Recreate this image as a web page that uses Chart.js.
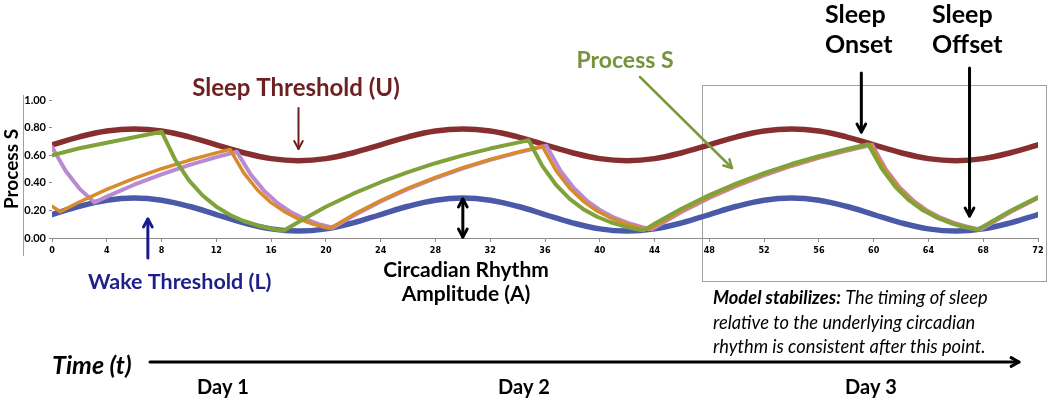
<!DOCTYPE html>
<html>
<head>
<meta charset="utf-8">
<script src="https://cdn.jsdelivr.net/npm/chart.js@4"></script>
<style>
  html, body { margin: 0; padding: 0; background: #fff; }
  #wrap { width: 1050px; height: 400px; }
</style>
</head>
<body>
<div id="wrap"><canvas id="sleepChart" width="1050" height="400"></canvas></div>
<script>
// axis ticks
const hourTicks = [0, 4, 8, 12, 16, 20, 24, 28, 32, 36, 40, 44, 48, 52, 56, 60, 64, 68, 72];
const levelTicks = ['0.00', '0.10', '0.20', '0.30', '0.40', '0.50', '0.60', '0.70', '0.80', '0.90', '1.00'];

// circadian thresholds, read every 2 hours
const thresholdHours = [0, 2, 4, 6, 8, 10, 12, 14, 16, 18, 20, 22, 24, 26, 28, 30, 32, 34, 36,
  38, 40, 42, 44, 46, 48, 50, 52, 54, 56, 58, 60, 62, 64, 66, 68, 70, 72];
const upperThreshold = [0.675, 0.733, 0.775, 0.79, 0.775, 0.733, 0.675, 0.618, 0.575, 0.56, 0.575, 0.618,
  0.675, 0.733, 0.775, 0.79, 0.775, 0.733, 0.675, 0.618, 0.575, 0.56, 0.575, 0.618,
  0.675, 0.733, 0.775, 0.79, 0.775, 0.733, 0.675, 0.618, 0.575, 0.56, 0.575, 0.618, 0.675];
const lowerThreshold = [0.17, 0.23, 0.274, 0.29, 0.274, 0.23, 0.17, 0.11, 0.066, 0.05, 0.066, 0.11,
  0.17, 0.23, 0.274, 0.29, 0.274, 0.23, 0.17, 0.11, 0.066, 0.05, 0.066, 0.11,
  0.17, 0.23, 0.274, 0.29, 0.274, 0.23, 0.17, 0.11, 0.066, 0.05, 0.066, 0.11, 0.17];

// Process S (green), starting at 0.60
const greenHours = [0, 2, 4, 6, 8, 9, 10, 11, 12, 13, 14, 15, 16, 16.9, 18, 20, 22, 24, 26, 28, 30, 32, 34, 34.8,
  35.8, 36.8, 37.8, 38.8, 39.8, 40.8, 41.8, 42.8, 43.2, 44, 46, 48, 50, 52, 54, 56, 58, 59.6,
  60.6, 61.6, 62.6, 63.6, 64.6, 65.6, 66.6, 67.6, 68, 70, 72];
const greenLevels = [0.60, 0.65, 0.69, 0.73, 0.77, 0.567, 0.418, 0.308, 0.227, 0.167, 0.123, 0.091, 0.067, 0.052,
  0.116, 0.226, 0.321, 0.404, 0.478, 0.542, 0.599, 0.648, 0.691, 0.708,
  0.523, 0.386, 0.284, 0.209, 0.154, 0.114, 0.084, 0.062, 0.055, 0.103, 0.214, 0.311, 0.396, 0.470, 0.536, 0.593, 0.643, 0.679,
  0.501, 0.369, 0.272, 0.201, 0.148, 0.109, 0.080, 0.06, 0.084, 0.197, 0.296];

// Process S (orange), starting at 0.23
const orangeHours = [0, 0.6, 2, 4, 6, 8, 10, 12, 13, 14, 15, 16, 17, 18, 19, 20, 20.3, 22, 24, 26, 28, 30, 32, 34, 35.8,
  36.8, 37.8, 38.8, 39.8, 40.8, 41.8, 42.8, 43.6, 46, 48, 50, 52, 54, 56, 58, 59.8,
  60.8, 61.8, 62.8, 63.8, 64.8, 65.8, 66.8, 67.7, 70, 72];
const orangeLevels = [0.23, 0.19, 0.261, 0.352, 0.432, 0.502, 0.563, 0.617, 0.642, 0.472, 0.348, 0.256, 0.189, 0.139, 0.103, 0.076, 0.069,
  0.169, 0.271, 0.361, 0.440, 0.509, 0.569, 0.622, 0.665,
  0.490, 0.361, 0.266, 0.196, 0.145, 0.107, 0.079, 0.062, 0.199, 0.297, 0.384, 0.461, 0.526, 0.585, 0.636, 0.677,
  0.499, 0.368, 0.271, 0.200, 0.147, 0.109, 0.080, 0.061, 0.192, 0.292];

// Process S (purple), starting at 0.66
const purpleHours = [0, 1, 2, 3.1, 4, 6, 8, 10, 12, 13.5, 14.5, 15.5, 16.5, 17.5, 18.5, 19.5, 20.5, 22, 24, 26, 28, 30, 32, 34, 36.1,
  37.1, 38.1, 39.1, 40.1, 41.1, 42.1, 43.1, 43.8, 46, 48, 50, 52, 54, 56, 58, 59.9,
  60.9, 61.9, 62.9, 63.9, 64.9, 65.9, 66.9, 67.8, 70, 72];
const purpleLevels = [0.66, 0.486, 0.358, 0.257, 0.300, 0.386, 0.461, 0.528, 0.586, 0.625, 0.461, 0.340, 0.250, 0.184, 0.136, 0.100, 0.074,
  0.161, 0.265, 0.355, 0.434, 0.504, 0.566, 0.619, 0.668,
  0.492, 0.363, 0.267, 0.197, 0.145, 0.107, 0.079, 0.064, 0.190, 0.290, 0.378, 0.454, 0.522, 0.581, 0.632, 0.675,
  0.497, 0.367, 0.270, 0.199, 0.147, 0.108, 0.080, 0.061, 0.188, 0.29];

function pairUp(xs, ys) {
  return xs.map((x, i) => ({ x: x, y: ys[i] }));
}

const annoFont = 'Lato, "Open Sans", sans-serif';

function arrow(ctx, x1, y1, x2, y2, color, width, both) {
  ctx.save();
  ctx.strokeStyle = color;
  ctx.lineWidth = width;
  ctx.lineCap = 'round';
  ctx.lineJoin = 'round';
  ctx.beginPath();
  ctx.moveTo(x1, y1);
  ctx.lineTo(x2, y2);
  ctx.stroke();
  const heads = both ? [[x2, y2, x1, y1], [x1, y1, x2, y2]] : [[x2, y2, x1, y1]];
  heads.forEach(h => {
    const a = Math.atan2(h[1] - h[3], h[0] - h[2]);
    const len = 9;
    ctx.beginPath();
    ctx.moveTo(h[0] - len * Math.cos(a - 0.5), h[1] - len * Math.sin(a - 0.5));
    ctx.lineTo(h[0], h[1]);
    ctx.lineTo(h[0] - len * Math.cos(a + 0.5), h[1] - len * Math.sin(a + 0.5));
    ctx.stroke();
  });
  ctx.restore();
}

function label(ctx, text, x, y, font, color, align) {
  ctx.font = font;
  ctx.fillStyle = color;
  ctx.textAlign = align || 'center';
  ctx.textBaseline = 'middle';
  ctx.fillText(text, x, y);
}

const notes = {
  id: 'notes',
  beforeDatasetsDraw(chart) {
    const ctx = chart.ctx;
    ctx.save();
    ctx.strokeStyle = '#a0a0a0';
    ctx.lineWidth = 1;
    ctx.strokeRect(702.5, 85.5, 344, 196);
    ctx.beginPath();
    ctx.moveTo(23.5, 95);
    ctx.lineTo(23.5, 256);
    ctx.stroke();
    ctx.restore();
  },
  afterDraw(chart) {
    const ctx = chart.ctx;
    const xs = chart.scales.x;
    ctx.save();

    label(ctx, 'Sleep Threshold (U)', 296, 88, 'bold 24px ' + annoFont, '#6e1f1f');
    arrow(ctx, xs.getPixelForValue(18), 108, xs.getPixelForValue(18), 149, '#6e1f1f', 2);

    label(ctx, 'Process S', 625, 61, 'bold 23px ' + annoFont, '#77933c');
    arrow(ctx, 640, 77, 732, 168, '#7a9a3e', 2.5);

    label(ctx, 'Sleep', 825, 15, 'bold 25px ' + annoFont, '#000', 'left');
    label(ctx, 'Onset', 825, 45, 'bold 25px ' + annoFont, '#000', 'left');
    label(ctx, 'Sleep', 932, 15, 'bold 25px ' + annoFont, '#000', 'left');
    label(ctx, 'Offset', 932, 45, 'bold 25px ' + annoFont, '#000', 'left');
    arrow(ctx, xs.getPixelForValue(59.1), 73, xs.getPixelForValue(59.1), 132, '#000', 3);
    arrow(ctx, xs.getPixelForValue(67), 68, xs.getPixelForValue(67), 216, '#000', 3);

    label(ctx, 'Wake Threshold (L)', 88, 282, 'bold 21.5px ' + annoFont, '#1f1f8c', 'left');
    arrow(ctx, xs.getPixelForValue(7), 258, xs.getPixelForValue(7), 219, '#1a1a8c', 3);

    label(ctx, 'Circadian Rhythm', 466, 270, 'bold 21px ' + annoFont, '#000');
    label(ctx, 'Amplitude (A)', 466, 294, 'bold 21px ' + annoFont, '#000');
    arrow(ctx, xs.getPixelForValue(30), 199, xs.getPixelForValue(30), 237, '#000', 3, true);

    // model stabilizes note
    ctx.font = 'italic bold 18.3px ' + annoFont;
    ctx.fillStyle = '#000';
    ctx.textAlign = 'left';
    ctx.textBaseline = 'middle';
    const lead = 'Model stabilizes:';
    ctx.fillText(lead, 713, 298);
    const leadW = ctx.measureText(lead).width;
    ctx.font = 'italic 18.3px ' + annoFont;
    ctx.fillText(' The timing of sleep', 713 + leadW, 298);
    ctx.fillText('relative to the underlying circadian', 713, 323);
    ctx.fillText('rhythm is consistent after this point.', 713, 347);

    label(ctx, 'Time (t)', 52, 366, 'italic bold 25px ' + annoFont, '#000', 'left');
    arrow(ctx, 150, 362, 1019, 362, '#000', 3);

    label(ctx, 'Day 1', 223, 388, 'bold 20px ' + annoFont, '#000');
    label(ctx, 'Day 2', 524, 388, 'bold 20px ' + annoFont, '#000');
    label(ctx, 'Day 3', 871, 388, 'bold 20px ' + annoFont, '#000');

    ctx.restore();
  }
};

const lineStyle = {
  pointRadius: 0,
  fill: false,
  tension: 0,
  borderJoinStyle: 'round',
  borderCapStyle: 'round'
};

const ctx = document.getElementById('sleepChart').getContext('2d');
const sleepChart = new Chart(ctx, {
  type: 'line',
  data: {
    datasets: [
      Object.assign({ label: 'Process S', data: pairUp(greenHours, greenLevels), borderColor: '#7fa23a', borderWidth: 4 }, lineStyle),
      Object.assign({ label: 'Process S (start 0.23)', data: pairUp(orangeHours, orangeLevels), borderColor: '#d98a2b', borderWidth: 3.5 }, lineStyle),
      Object.assign({ label: 'Process S (start 0.66)', data: pairUp(purpleHours, purpleLevels), borderColor: '#b88ad2', borderWidth: 4 }, lineStyle),
      Object.assign({}, lineStyle, { label: 'Wake Threshold (L)', data: pairUp(thresholdHours, lowerThreshold), borderColor: '#4b5aa8', borderWidth: 5.5, tension: 0.4 }),
      Object.assign({}, lineStyle, { label: 'Sleep Threshold (U)', data: pairUp(thresholdHours, upperThreshold), borderColor: '#862f2e', borderWidth: 5.5, tension: 0.4 })
    ]
  },
  options: {
    responsive: false,
    animation: false,
    devicePixelRatio: 1,
    layout: { padding: { top: 100, right: 12, bottom: 142, left: 0 } },
    plugins: {
      legend: { display: false },
      tooltip: { enabled: false }
    },
    scales: {
      x: {
        type: 'linear',
        min: 0,
        max: 72,
        afterBuildTicks: scale => { scale.ticks = hourTicks.map(v => ({ value: v })); },
        afterFit: scale => { scale.height = 20; },
        grid: { drawOnChartArea: false, drawTicks: true, tickLength: 4, color: '#8c8c8c' },
        border: { display: true, color: '#8c8c8c' },
        ticks: {
          autoSkip: false,
          maxRotation: 0,
          padding: 3,
          color: '#000',
          font: { family: '"Liberation Sans Narrow", "DejaVu Sans Condensed", sans-serif', weight: 'bold', size: 9 }
        }
      },
      y: {
        min: 0,
        max: 1,
        afterBuildTicks: scale => { scale.ticks = levelTicks.map(v => ({ value: parseFloat(v) })); },
        afterFit: scale => { scale.width = 52; },
        grid: { drawOnChartArea: false, drawTicks: true, tickLength: 3, color: '#8c8c8c' },
        border: { display: false },
        title: {
          display: true,
          text: 'Process S',
          color: '#000',
          padding: 0,
          font: { family: annoFont, weight: 'bold', size: 19 }
        },
        ticks: {
          padding: 3,
          color: '#000',
          callback: (value, index) => levelTicks[index],
          font: { family: annoFont, weight: 'bold', size: 11 }
        }
      }
    }
  },
  plugins: [notes]
});
</script>
</body>
</html>
